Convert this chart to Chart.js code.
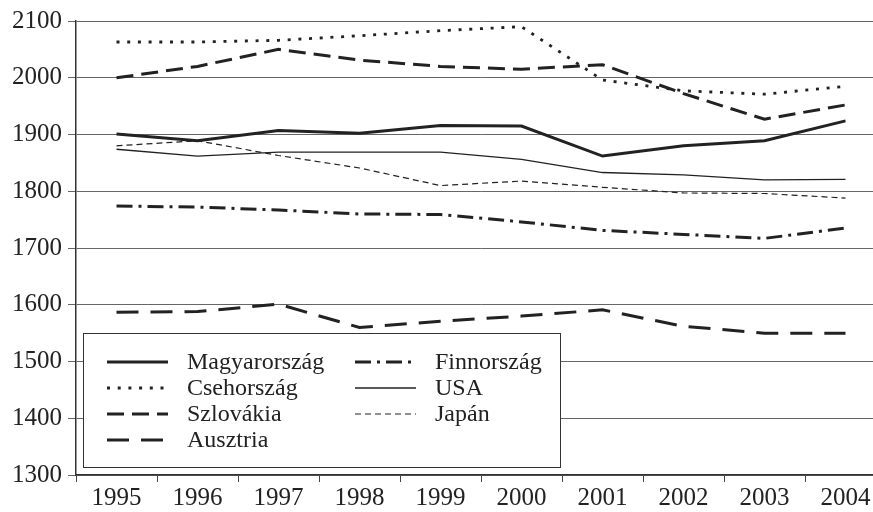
<!DOCTYPE html>
<html>
<head>
<meta charset="utf-8">
<script src="https://cdn.jsdelivr.net/npm/chart.js@4/dist/chart.umd.min.js"></script>
<style>
  html, body { margin: 0; padding: 0; background: #fff; overflow: hidden; }
  #wrap { width: 900px; height: 512px; }
</style>
</head>
<body>
<div id="wrap"><canvas id="line" width="900" height="512"></canvas></div>
<script>
// éves munkaórák

var evek = ['1995', '1996', '1997', '1998', '1999', '2000', '2001', '2002', '2003', '2004'];

var magyarorszag = [1901, 1889, 1907, 1902, 1916, 1915, 1862, 1880, 1889, 1924];
var csehorszag   = [2063, 2063, 2066, 2074, 2083, 2090, 1996, 1977, 1971, 1985];
var szlovakia    = [2000, 2020, 2050, 2031, 2020, 2015, 2023, 1972, 1927, 1952];
var ausztria     = [1587, 1588, 1601, 1560, 1571, 1580, 1591, 1562, 1550, 1550];
var finnorszag   = [1774, 1772, 1767, 1760, 1759, 1746, 1731, 1724, 1717, 1735];
var usa          = [1874, 1862, 1869, 1869, 1869, 1856, 1833, 1829, 1820, 1821];
var japan        = [1880, 1889, 1863, 1841, 1810, 1818, 1807, 1797, 1796, 1788];

var yTickek = [1300, 1400, 1500, 1600, 1700, 1800, 1900, 2000, 2100];

var betu = 'Liberation Serif';
var fekete = '#222';

// jelmagyarazat a grafikonon belul, ket oszlopban
var jelmagyarazat = {
    id: 'jelmagyarazat',
    afterDraw: function (chart) {
        var c = chart.ctx;
        var a = chart.chartArea;
        var x0 = a.left + 7, y0 = a.bottom - 142, w = 477, h = 134;
        c.save();
        c.fillStyle = '#fff';
        c.fillRect(x0, y0, w, h);
        c.strokeStyle = '#333';
        c.lineWidth = 1;
        c.strokeRect(x0 + 0.5, y0 + 0.5, w, h);
        c.font = '24px "' + betu + '"';
        c.textBaseline = 'middle';
        c.fillStyle = fekete;
        chart.data.datasets.forEach(function (ds, i) {
            var oszlop = i < 4 ? 0 : 1;
            var sor = i < 4 ? i : i - 4;
            var sx = x0 + 24 + oszlop * 248;
            var sy = y0 + 29 + sor * 26;
            c.beginPath();
            c.strokeStyle = ds.borderColor;
            c.lineWidth = ds.borderWidth;
            c.setLineDash(ds.borderDash || []);
            c.moveTo(sx, sy);
            c.lineTo(sx + 61, sy);
            c.stroke();
            c.setLineDash([]);
            c.fillText(ds.label, sx + 80, sy + 1);
        });
        c.restore();
    }
};

var ctx = document.getElementById('line').getContext('2d');
var lineChart = new Chart(ctx, {

    type: 'line',

    data: {
        labels: evek,
        datasets: [
            { label: 'Magyarország', data: magyarorszag, borderColor: fekete, borderWidth: 3 },
            { label: 'Csehország', data: csehorszag, borderColor: fekete, borderWidth: 2.8, borderDash: [3, 7.7] },
            { label: 'Szlovákia', data: szlovakia, borderColor: fekete, borderWidth: 3, borderDash: [17, 8] },
            { label: 'Ausztria', data: ausztria, borderColor: fekete, borderWidth: 3, borderDash: [22, 12] },
            { label: 'Finnország', data: finnorszag, borderColor: fekete, borderWidth: 3, borderDash: [16, 6, 3, 6] },
            { label: 'USA', data: usa, borderColor: fekete, borderWidth: 1.3 },
            { label: 'Japán', data: japan, borderColor: fekete, borderWidth: 1.2, borderDash: [6, 4] }
        ]
    },

    options: {
        responsive: false,
        animation: false,
        layout: { padding: { top: 19, right: 14, left: 0, bottom: 0 } },
        elements: { point: { radius: 0 }, line: { tension: 0, fill: false } },
        plugins: { legend: { display: false }, tooltip: { enabled: false } },
        scales: {
            x: {
                offset: true,
                grid: { offset: true, drawOnChartArea: false, drawTicks: true, tickLength: 7, color: '#444' },
                border: { display: true, color: '#333', width: 1.5 },
                ticks: { color: fekete, font: { family: betu, size: 25 }, padding: 1, maxRotation: 0 },
                afterFit: function (s) { s.height = 37; }
            },
            y: {
                min: 1300,
                max: 2100,
                afterBuildTicks: function (s) { s.ticks = yTickek.map(function (v) { return { value: v }; }); },
                grid: { color: '#666', lineWidth: 1, drawTicks: true, tickLength: 8 },
                border: { display: true, color: '#333', width: 1.5 },
                ticks: {
                    color: fekete, font: { family: betu, size: 25 }, padding: 6,
                    callback: function (v) { return String(v); }
                },
                afterFit: function (s) { s.width = 76; }
            }
        }
    },

    plugins: [jelmagyarazat]
});
</script>
</body>
</html>
